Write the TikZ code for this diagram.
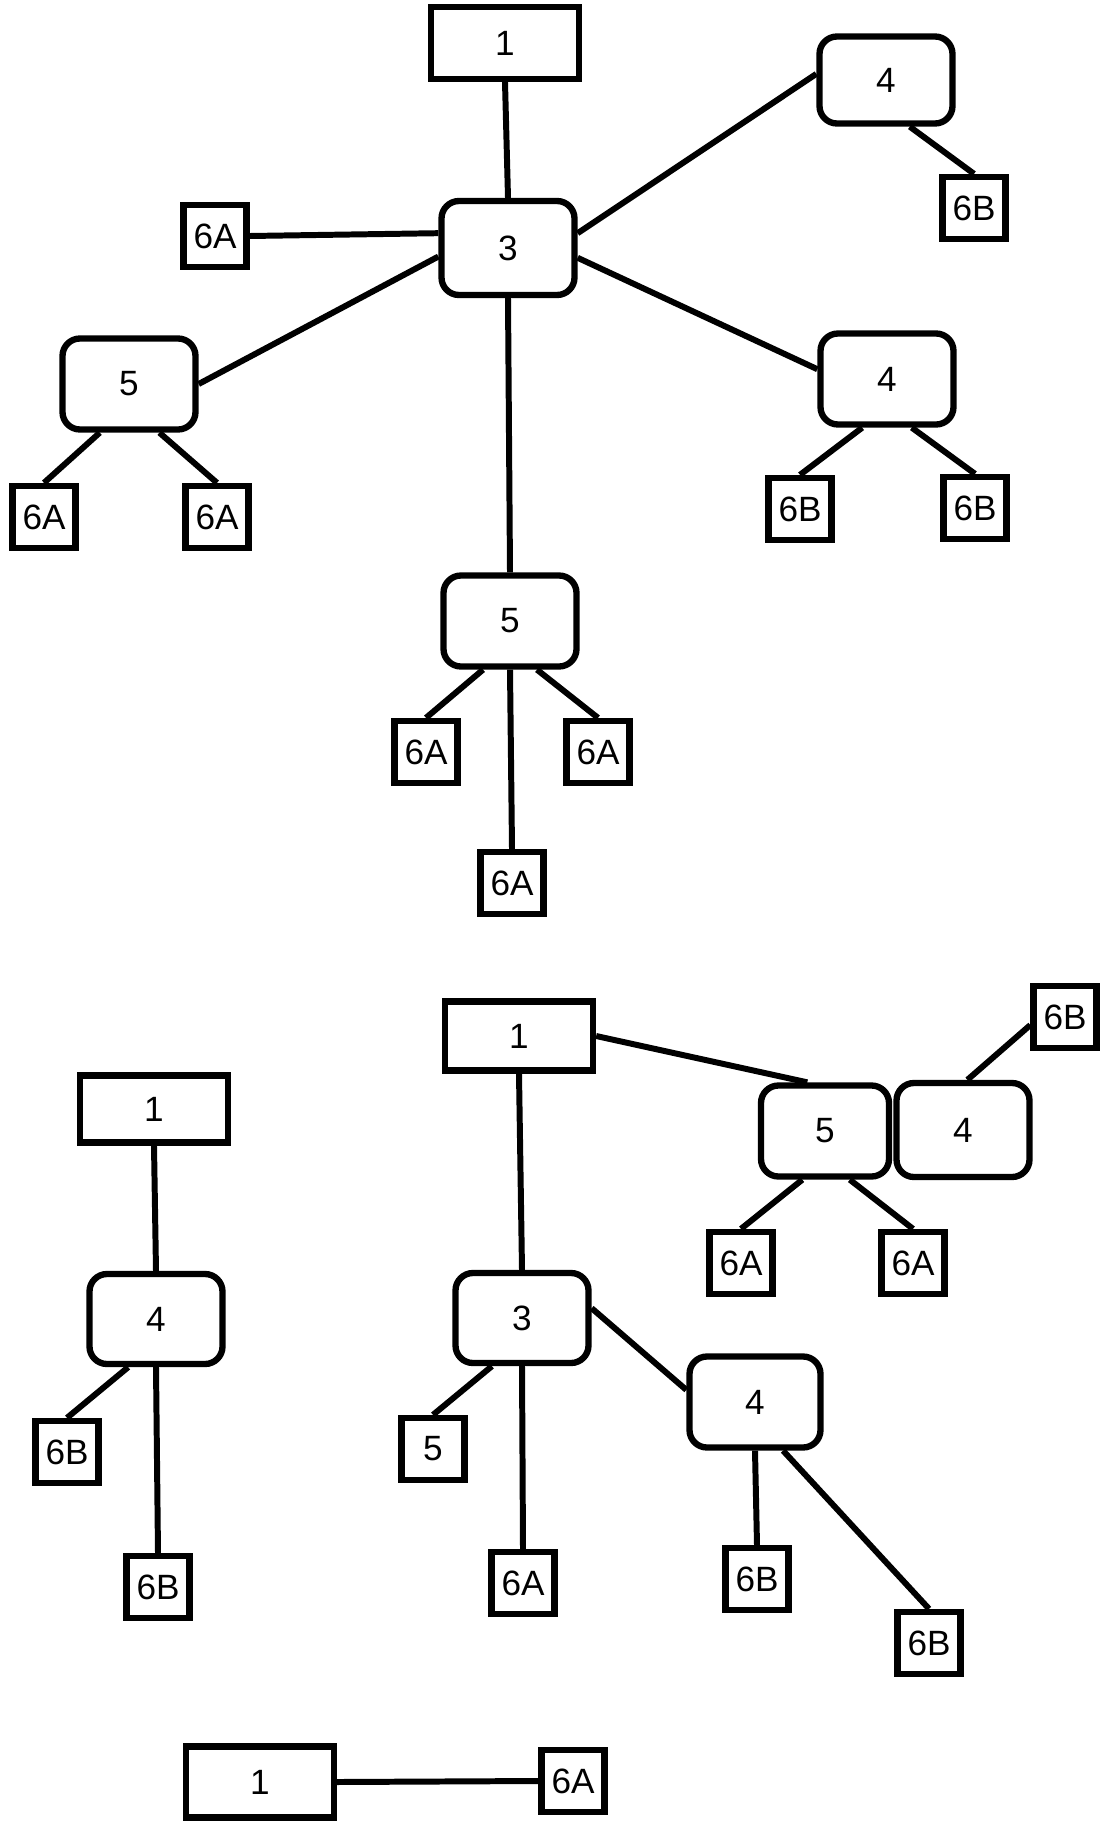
\documentclass[tikz,border=0pt]{standalone}
\usepackage{fontspec}
\setmainfont{Liberation Sans}

\begin{document}
\begin{tikzpicture}[x=0.2mm, y=-0.2mm,
  every node/.style={font=\fontsize{20}{24}\selectfont},
  plainbox/.style={draw, line width=3.6pt, minimum width=2.96cm, minimum height=1.34cm, inner sep=0pt},
  roundbox/.style={draw, line width=3.6pt, rounded corners=0.35cm, minimum width=2.66cm, minimum height=1.82cm, inner sep=0pt},
  tagbox/.style={draw, line width=3.6pt, minimum width=1.26cm, minimum height=1.24cm, inner sep=0pt},
  link/.style={line width=3.4pt}]
  \useasboundingbox (0,0) rectangle (1116,1831);

  % upper tree
  \node [plainbox, minimum height=1.44cm] (t1) at (505,43) {1};
  \node [roundbox, minimum height=1.88cm] (t3) at (508,248) {3};
  \node [tagbox] (t6a) at (215,236) {6A};
  \node [roundbox] (t5l) at (129,384) {5};
  \node [tagbox] (t5la) at (44,517) {6A};
  \node [tagbox] (t5lb) at (217,517) {6A};
  \node [roundbox, minimum height=1.74cm] (t4a) at (886,80) {4};
  \node [tagbox] (t4a6b) at (974,208) {6B};
  \node [roundbox] (t4b) at (887,379) {4};
  \node [tagbox] (t4b6b1) at (800,509) {6B};
  \node [tagbox] (t4b6b2) at (975,508) {6B};
  \node [roundbox] (t5b) at (510,621) {5};
  \node [tagbox] (t5b6a1) at (426,752) {6A};
  \node [tagbox] (t5b6a2) at (598,752) {6A};
  \node [tagbox] (t5b6a3) at (512,883) {6A};

  \draw [link] (t1.south) -- (t3.north);
  \draw [link] (t6a.east) -- (t3.168);
  \draw [link] (t5l.east) -- (t3.187);
  \draw [link] (t3.12) -- (t4a.175);
  \draw [link] (t3.352) -- (t4b.172);
  \draw [link] (t3.south) -- (t5b.north);
  \draw [link] (t5l.239) -- (t5la.north);
  \draw [link] (t5l.302) -- (t5lb.north);
  \draw [link] (t4a.297) -- (t4a6b.north);
  \draw [link] (t4b.243) -- (t4b6b1.north);
  \draw [link] (t4b.297) -- (t4b6b2.north);
  \draw [link] (t5b.241) -- (t5b6a1.north);
  \draw [link] (t5b.299) -- (t5b6a2.north);
  \draw [link] (t5b.south) -- (t5b6a3.north);

  % lower left tree
  \node [plainbox] (l1) at (154,1109) {1};
  \node [roundbox, minimum height=1.8cm] (l4) at (156,1319) {4};
  \node [tagbox] (l6b1) at (67,1452) {6B};
  \node [tagbox] (l6b2) at (158,1587) {6B};

  \draw [link] (l1.south) -- (l4.north);
  \draw [link] (l4.240) -- (l6b1.north);
  \draw [link] (l4.south) -- (l6b2.north);

  % lower middle tree
  \node [plainbox, minimum height=1.38cm] (m1) at (519,1036) {1};
  \node [roundbox, minimum height=1.8cm] (m3) at (522,1318) {3};
  \node [tagbox] (m5s) at (433,1449) {5};
  \node [tagbox] (m6a) at (523,1583) {6A};
  \node [roundbox, minimum width=2.56cm] (m5) at (825,1131) {5};
  \node [roundbox, minimum height=1.88cm] (m4) at (963,1130) {4};
  \node [tagbox] (m6b) at (1065,1017) {6B};
  \node [tagbox] (m6a1) at (741,1263) {6A};
  \node [tagbox] (m6a2) at (913,1263) {6A};
  \node [roundbox, minimum width=2.62cm] (m4b) at (755,1402) {4};
  \node [tagbox] (m6b1) at (757,1579) {6B};
  \node [tagbox] (m6b2) at (929,1643) {6B};

  \draw [link] (m1.south) -- (m3.north);
  \draw [link] (m1.east) -- (m5.110);
  \draw [link] (m5.245) -- (m6a1.north);
  \draw [link] (m5.297) -- (m6a2.north);
  \draw [link] (m4.85) -- (m6b.193);
  \draw [link] (m3.238) -- (m5s.north);
  \draw [link] (m3.south) -- (m6a.north);
  \draw [link] (m3.8) -- (m4b.170);
  \draw [link] (m4b.south) -- (m6b1.north);
  \draw [link] (m4b.300) -- (m6b2.north);

  % bottom pair
  \node [plainbox, minimum height=1.42cm] (b1) at (260,1782) {1};
  \node [tagbox] (b6a) at (573,1781) {6A};

  \draw [link] (b1.east) -- (b6a.west);
\end{tikzpicture}
\end{document}
